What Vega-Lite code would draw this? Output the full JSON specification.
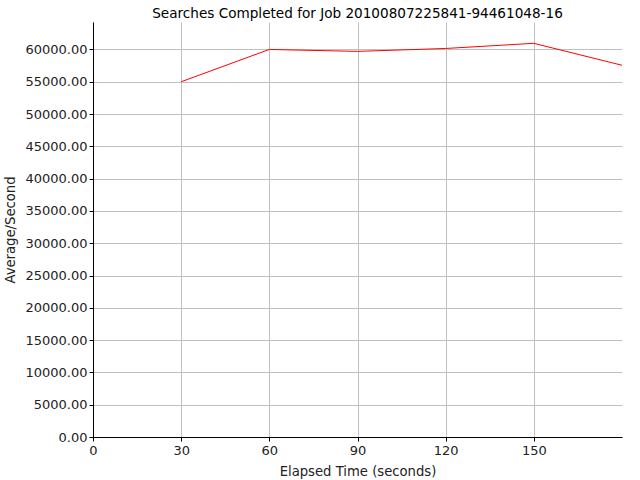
{
  "$schema": "https://vega.github.io/schema/vega-lite/v6.json",
  "autosize": "none",
  "width": 529,
  "height": 415,
  "padding": {"left": 93, "top": 22, "right": 18, "bottom": 43},
  "background": "white",
  "title": {
    "text": "Searches Completed for Job 20100807225841-94461048-16",
    "font": "DejaVu Sans",
    "fontSize": 13.6,
    "fontWeight": "normal",
    "color": "black",
    "offset": 1
  },
  "config": {
    "view": {"stroke": null},
    "axis": {
      "labelFont": "DejaVu Sans",
      "labelFontSize": 13,
      "labelColor": "#222222",
      "titleFont": "DejaVu Sans",
      "titleFontSize": 13.2,
      "titleFontWeight": "normal",
      "titleColor": "#222222",
      "domainColor": "black",
      "tickColor": "black",
      "tickSize": 4,
      "gridColor": "#c0c0c0",
      "gridWidth": 1
    }
  },
  "data": {
    "values": [
      {"time": 30, "rate": 55000},
      {"time": 60, "rate": 60000},
      {"time": 90, "rate": 59700},
      {"time": 120, "rate": 60150},
      {"time": 150, "rate": 60950},
      {"time": 180, "rate": 57550}
    ]
  },
  "mark": {"type": "line", "color": "#ff0000", "strokeWidth": 1},
  "encoding": {
    "x": {
      "field": "time",
      "type": "quantitative",
      "title": "Elapsed Time (seconds)",
      "scale": {"domain": [0, 180], "nice": false, "zero": true},
      "axis": {
        "values": [0, 30, 60, 90, 120, 150],
        "format": "d",
        "labelPadding": 3,
        "titlePadding": 8,
        "labelFlush": false
      }
    },
    "y": {
      "field": "rate",
      "type": "quantitative",
      "title": "Average/Second",
      "scale": {"domain": [0, 64250], "nice": false},
      "axis": {
        "values": [0, 5000, 10000, 15000, 20000, 25000, 30000, 35000, 40000, 45000, 50000, 55000, 60000],
        "format": ".2f",
        "labelPadding": 2,
        "titlePadding": 7
      }
    }
  }
}
